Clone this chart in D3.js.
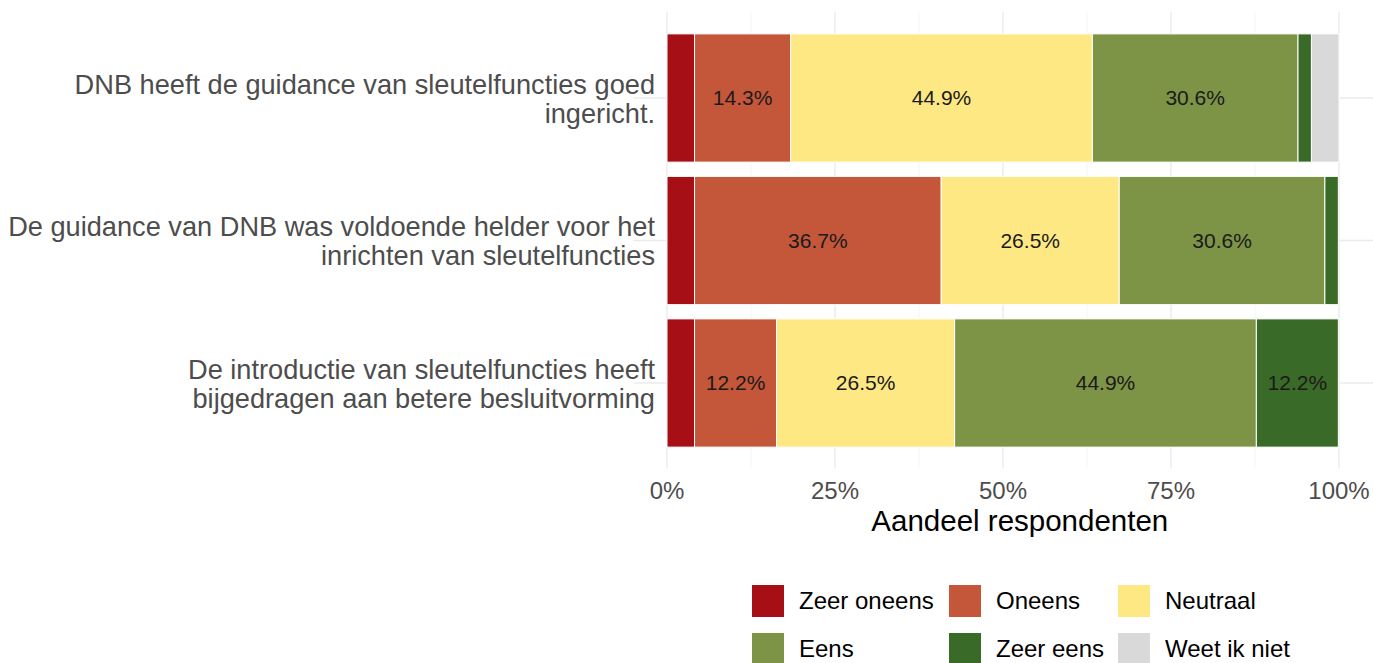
<!DOCTYPE html>
<html>
<head>
<meta charset="utf-8">
<script src="https://cdn.jsdelivr.net/npm/d3@7"></script>
<style>
  body { margin: 0; background: #fff; }
  text { font-family: "Liberation Sans", Arial, sans-serif; }
</style>
</head>
<body>
<div id="chart"></div>
<script>
// data (percentages per statement)
var statements = [
  ["DNB heeft de guidance van sleutelfuncties goed", "ingericht."],
  ["De guidance van DNB was voldoende helder voor het", "inrichten van sleutelfuncties"],
  ["De introductie van sleutelfuncties heeft", "bijgedragen aan betere besluitvorming"]
];
var answers = ["Zeer oneens", "Oneens", "Neutraal", "Eens", "Zeer eens", "Weet ik niet"];
var zeerOneens = [4.1, 4.1, 4.1];
var oneens = [14.3, 36.7, 12.2];
var neutraal = [44.9, 26.5, 26.5];
var eens = [30.6, 30.6, 44.9];
var zeerEens = [2.0, 2.0, 12.2];
var weetNiet = [4.1, 0, 0];
var xTicks = [0, 0.25, 0.5, 0.75, 1];
var xTickLabels = ["0%", "25%", "50%", "75%", "100%"];

//colors
var colors = ["#a50f15", "#c4573a", "#fee883", "#7d9446", "#3a6a27", "#d9d9d9"];

var width = 1373, height = 663;
var series = [zeerOneens, oneens, neutraal, eens, zeerEens, weetNiet];

var svg = d3.select("#chart").append("svg")
  .attr("width", width).attr("height", height);

var x = d3.scaleLinear().domain([0, 1]).range([667, 1339]);
var y = d3.scaleBand().domain(d3.range(statements.length))
  .range([12.5, 468.5]).paddingInner(0.1).paddingOuter(0.15);

var panelLeft = x(-0.05), panelRight = x(1.1);

// grid
var grid = svg.append("g");
d3.range(0, 1.001, 0.125).forEach(function(t, i) {
  grid.append("line")
    .attr("x1", x(t)).attr("x2", x(t))
    .attr("y1", 12.5).attr("y2", 468.5)
    .attr("stroke", i % 2 ? "#f3f3f3" : "#ebebeb")
    .attr("stroke-width", i % 2 ? 0.8 : 1.4);
});
statements.forEach(function(s, i) {
  grid.append("line")
    .attr("x1", panelLeft).attr("x2", panelRight)
    .attr("y1", y(i) + y.bandwidth() / 2).attr("y2", y(i) + y.bandwidth() / 2)
    .attr("stroke", "#ebebeb").attr("stroke-width", 1.4);
});

// stacked segments
var segs = [];
statements.forEach(function(s, i) {
  var cum = 0;
  series.forEach(function(vals, k) {
    var v = vals[i];
    segs.push({ row: i, k: k, x0: cum / 100, x1: (cum + v) / 100, v: v });
    cum += v;
  });
});

svg.append("g").selectAll("rect")
  .data(segs.filter(function(d) { return d.v > 0; }))
  .enter().append("rect")
  .attr("x", function(d) { return x(d.x0); })
  .attr("y", function(d) { return y(d.row); })
  .attr("width", function(d) { return x(d.x1) - x(d.x0); })
  .attr("height", y.bandwidth())
  .attr("fill", function(d) { return colors[d.k]; })
  .attr("stroke", "#fff")
  .attr("stroke-width", 1);

svg.append("g").selectAll("text")
  .data(segs.filter(function(d) { return d.v >= 10; }))
  .enter().append("text")
  .attr("x", function(d) { return x((d.x0 + d.x1) / 2); })
  .attr("y", function(d) { return y(d.row) + y.bandwidth() / 2; })
  .attr("dy", "0.35em")
  .attr("text-anchor", "middle")
  .attr("font-size", "21px")
  .attr("fill", "#1a1a1a")
  .text(function(d) { return d.v.toFixed(1) + "%"; });

// y labels
statements.forEach(function(lines, i) {
  var cy = y(i) + y.bandwidth() / 2;
  svg.append("text")
    .attr("x", 655).attr("y", cy - 14)
    .attr("text-anchor", "end")
    .attr("font-size", "27.2px")
    .attr("fill", "#4d4d4d")
    .selectAll("tspan").data(lines).enter().append("tspan")
    .attr("x", 655)
    .attr("dy", function(d, j) { return j === 0 ? "0.35em" : "29px"; })
    .text(function(d) { return d; });
});

// x axis labels
svg.append("g").selectAll("text")
  .data(xTicks).enter().append("text")
  .attr("x", function(d) { return x(d); })
  .attr("y", 491).attr("dy", "0.35em")
  .attr("text-anchor", "middle")
  .attr("font-size", "24px")
  .attr("fill", "#4d4d4d")
  .text(function(d, i) { return xTickLabels[i]; });

svg.append("text")
  .attr("x", (panelLeft + panelRight) / 2).attr("y", 521).attr("dy", "0.35em")
  .attr("text-anchor", "middle")
  .attr("font-size", "29.5px")
  .attr("fill", "#000")
  .text("Aandeel respondenten");

// legend
var legX = [752, 949, 1118];
var legY = [585, 633];
var legend = svg.append("g").selectAll("g")
  .data(answers).enter().append("g")
  .attr("transform", function(d, i) {
    return "translate(" + legX[i % 3] + "," + legY[Math.floor(i / 3)] + ")";
  });
legend.append("rect")
  .attr("width", 32).attr("height", 32)
  .attr("fill", function(d, i) { return colors[i]; });
legend.append("text")
  .attr("x", 47).attr("y", 16).attr("dy", "0.35em")
  .attr("font-size", "24px")
  .attr("fill", "#000")
  .text(function(d) { return d; });
</script>
</body>
</html>
